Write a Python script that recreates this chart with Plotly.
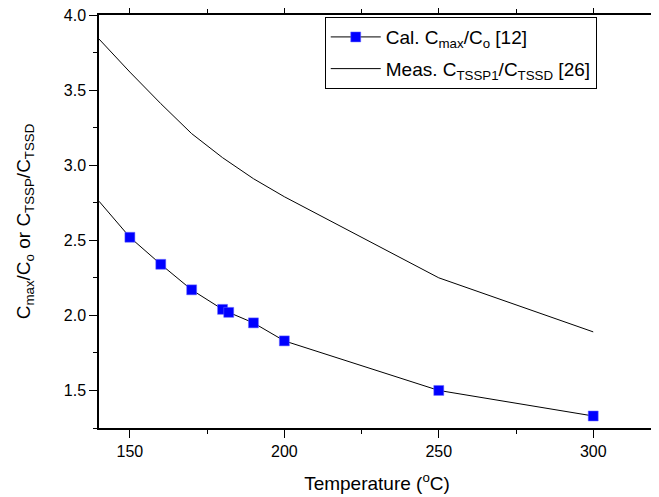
import plotly.graph_objects as go

# Calculated Cmax/Co [12]
cal_temp = [150, 160, 170, 180, 182, 190, 200, 250, 300]
cal_ratio = [2.52, 2.34, 2.17, 2.04, 2.02, 1.95, 1.83, 1.50, 1.33]
# extension of the calculated curve to the left axis
cal_ext_temp = [140, 150]
cal_ext_ratio = [2.76, 2.52]

# Measured CTSSP1/CTSSD [26]
meas_temp = [140, 150, 160, 170, 180, 190, 200, 250, 300]
meas_ratio = [3.84, 3.62, 3.41, 3.21, 3.05, 2.91, 2.79, 2.25, 1.89]

x_ticks = [150, 200, 250, 300]
y_ticks = [1.5, 2.0, 2.5, 3.0, 3.5, 4.0]

FONT = "Liberation Sans, Arial, sans-serif"

fig = go.Figure()

fig.add_trace(go.Scatter(
    x=cal_ext_temp, y=cal_ext_ratio, mode="lines",
    line=dict(color="black", width=1), showlegend=False, hoverinfo="skip"))

fig.add_trace(go.Scatter(
    x=cal_temp, y=cal_ratio, mode="lines+markers",
    name="Cal. C<sub>max</sub>/C<sub>o</sub> [12]", legendgroup="a",
    line=dict(color="black", width=1),
    marker=dict(symbol="square", size=10, color="#0000FF",
                line=dict(width=0.5, color="#6f6fff"))))

fig.add_trace(go.Scatter(
    x=meas_temp, y=meas_ratio, mode="lines",
    name="Meas. C<sub>TSSP1</sub>/C<sub>TSSD</sub> [26]", legendgroup="b",
    line=dict(color="black", width=1)))

axis_common = dict(
    showline=True, linecolor="black", linewidth=1.5, mirror="ticks",
    ticks="outside", ticklen=8, tickwidth=1, tickcolor="black",
    showgrid=False, zeroline=False, ticklabeloverflow="allow",
    tickfont=dict(family=FONT, size=16, color="black"),
)

fig.update_xaxes(
    range=[140, 320], tickvals=x_ticks, ticktext=[str(v) for v in x_ticks],
    minor=dict(dtick=25, tick0=0, ticks="outside", ticklen=4, tickcolor="black", tickwidth=1),
    title=dict(text="Temperature (<sup>o</sup>C)",
               font=dict(family=FONT, size=19, color="black"), standoff=18),
    **axis_common)

fig.update_yaxes(
    range=[1.25, 4.0], tickvals=y_ticks, ticktext=["%.1f" % v for v in y_ticks],
    minor=dict(dtick=0.25, tick0=0, ticks="outside", ticklen=4, tickcolor="black", tickwidth=1),
    title=dict(text="C<sub>max</sub>/C<sub>o</sub> or C<sub>TSSP</sub>/C<sub>TSSD</sub>",
               font=dict(family=FONT, size=19, color="black"), standoff=28),
    **axis_common)

fig.update_layout(
    width=651, height=489,
    margin=dict(l=91, r=4, t=7, b=69, autoexpand=False),
    paper_bgcolor="white", plot_bgcolor="white",
    font=dict(family=FONT, color="black"),
    legend=dict(x=0.406, y=0.995, xanchor="left", yanchor="top",
                bgcolor="white", bordercolor="black", borderwidth=1,
                font=dict(family=FONT, size=19, color="black"),
                tracegroupgap=4, itemwidth=50),
)

fig.write_html("out.html")
